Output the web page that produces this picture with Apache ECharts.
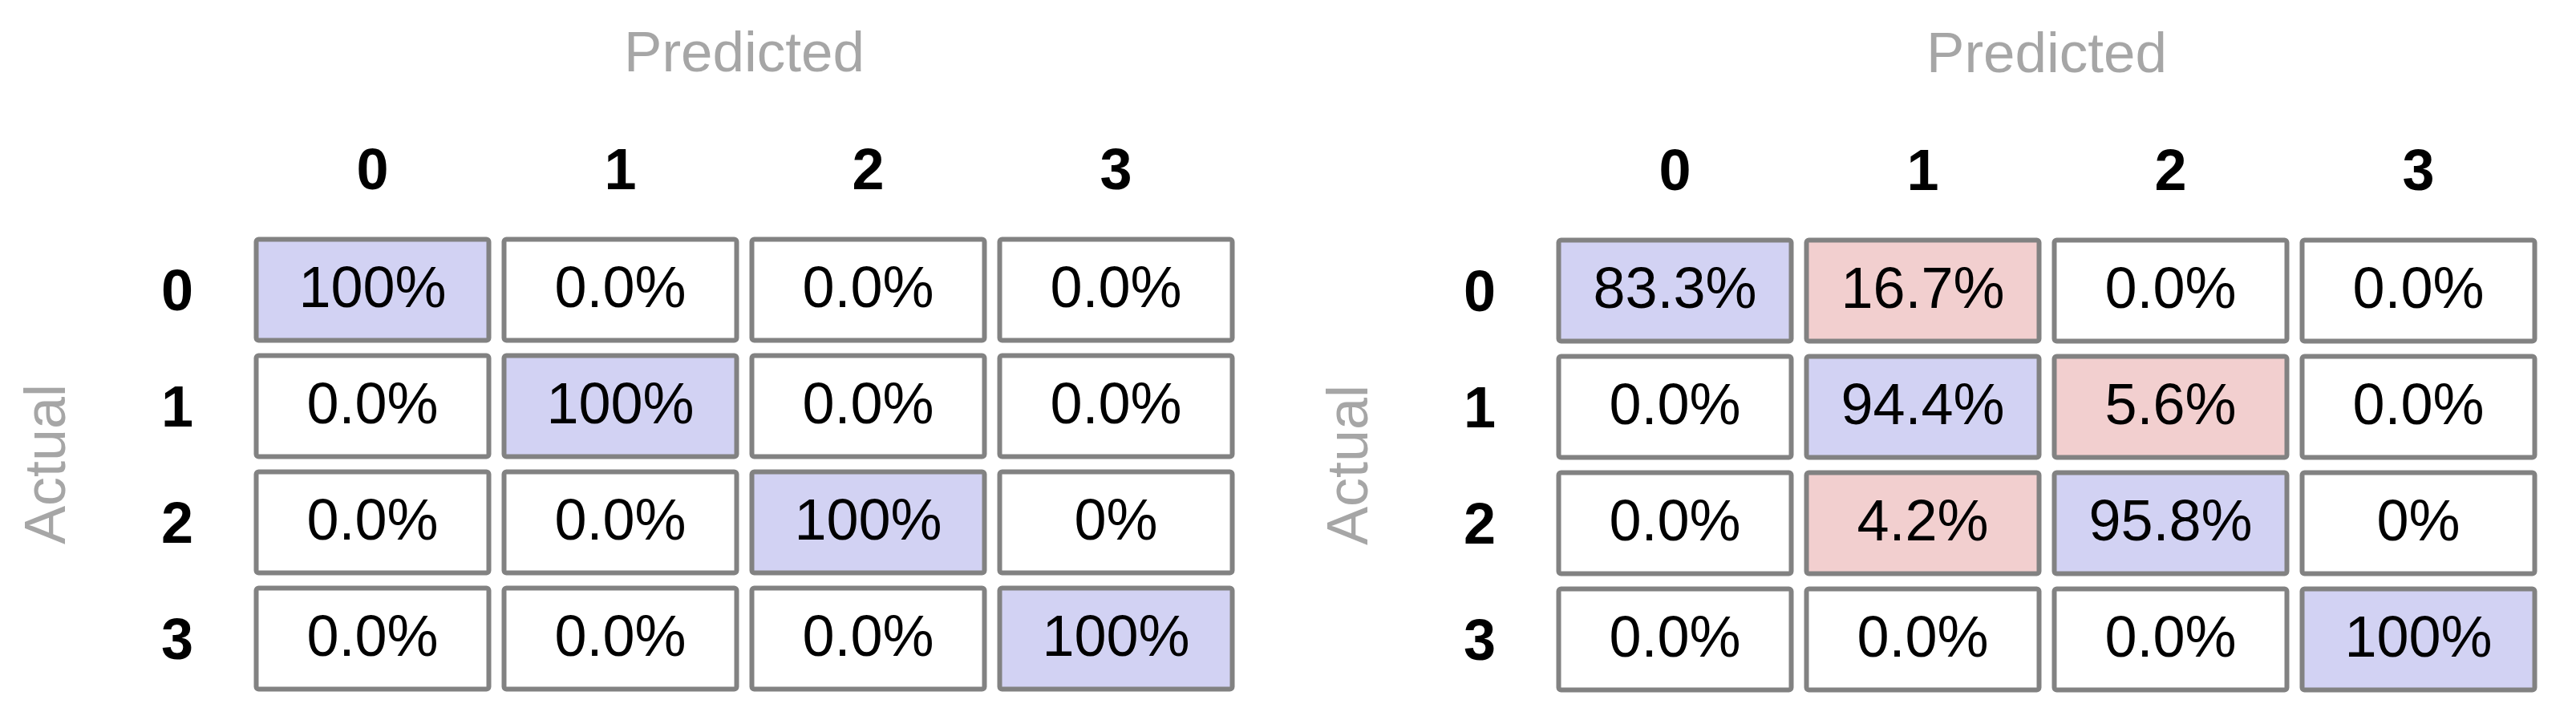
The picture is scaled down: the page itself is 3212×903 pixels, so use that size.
<!DOCTYPE html>
<html>
<head>
<meta charset="utf-8">
<script src="https://cdn.jsdelivr.net/npm/echarts@6/dist/echarts.min.js"></script>
<style>
  html, body { margin: 0; padding: 0; background: #fff; }
  #chart { width: 3212px; height: 903px; }
</style>
</head>
<body>
<div id="chart"></div>
<script>
// class labels for both axes
const classes = ['0', '1', '2', '3'];

// left matrix (rows = actual, cols = predicted)
const leftValues = [
  [100, 0, 0, 0],
  [0, 100, 0, 0],
  [0, 0, 100, 0],
  [0, 0, 0, 100]
];
const leftLabels = [
  ['100%', '0.0%', '0.0%', '0.0%'],
  ['0.0%', '100%', '0.0%', '0.0%'],
  ['0.0%', '0.0%', '100%', '0%'],
  ['0.0%', '0.0%', '0.0%', '100%']
];

// right matrix
const rightValues = [
  [83.3, 16.7, 0, 0],
  [0, 94.4, 5.6, 0],
  [0, 4.2, 95.8, 0],
  [0, 0, 0, 100]
];
const rightLabels = [
  ['83.3%', '16.7%', '0.0%', '0.0%'],
  ['0.0%', '94.4%', '5.6%', '0.0%'],
  ['0.0%', '4.2%', '95.8%', '0%'],
  ['0.0%', '0.0%', '0.0%', '100%']
];

const FONT = '"Liberation Sans", Arial, Helvetica, sans-serif';
const BLUE = '#d2d2f3';
const PINK = '#f2cfcf';
const BORDER = '#828282';

const toData = (values) => {
  const out = [];
  values.forEach((row, r) => {
    row.forEach((v, c) => out.push([c, r, v]));
  });
  return out;
};

// one bordered cell per value, with a small gap between neighbours
const makeRender = (labels) => (params, api) => {
  const col = api.value(0);
  const row = api.value(1);
  const v = api.value(2);
  const center = api.coord([col, row]);
  const size = api.size([1, 1]);
  const w = size[0] - 19;
  const h = size[1] - 19;
  let fill = '#fff';
  if (v > 0) fill = col === row ? BLUE : PINK;
  return {
    type: 'group',
    children: [
      {
        type: 'rect',
        shape: { x: center[0] - w / 2, y: center[1] - h / 2, width: w, height: h, r: 3 },
        style: { fill: fill, stroke: BORDER, lineWidth: 6 }
      },
      {
        type: 'text',
        x: center[0],
        y: center[1] + 2,
        style: {
          text: labels[row][col],
          fill: '#000',
          font: '72px ' + FONT,
          align: 'center',
          verticalAlign: 'middle'
        }
      }
    ]
  };
};

const xAxisFor = (gridIndex) => ({
  type: 'category',
  gridIndex: gridIndex,
  position: 'top',
  data: classes,
  name: 'Predicted',
  nameLocation: 'middle',
  nameGap: 184,
  nameTextStyle: { color: '#a6a6a6', fontSize: 71, fontFamily: FONT, lineHeight: 71 },
  axisLine: { show: false },
  axisTick: { show: false },
  splitLine: { show: false },
  axisLabel: {
    color: '#000', fontSize: 72, fontWeight: 'bold', fontFamily: FONT,
    lineHeight: 72, margin: 37
  }
});

const yAxisFor = (gridIndex) => ({
  type: 'category',
  gridIndex: gridIndex,
  inverse: true,
  data: classes,
  name: 'Actual',
  nameLocation: 'middle',
  nameRotate: 90,
  nameGap: 213,
  nameTextStyle: { color: '#a6a6a6', fontSize: 72, fontFamily: FONT, lineHeight: 72 },
  axisLine: { show: false },
  axisTick: { show: false },
  splitLine: { show: false },
  axisLabel: {
    margin: 69,
    formatter: (v) => '{n|' + v + '}',
    rich: {
      n: {
        color: '#000', fontSize: 72, fontWeight: 'bold', fontFamily: FONT,
        lineHeight: 72, padding: [12, 0, 0, 0]
      }
    }
  }
});

const chart = echarts.init(document.getElementById('chart'));
chart.setOption({
  animation: false,
  backgroundColor: '#fff',
  grid: [
    { left: 310, top: 289, width: 1236, height: 580 },
    { left: 1934, top: 290, width: 1236, height: 580 }
  ],
  xAxis: [xAxisFor(0), xAxisFor(1)],
  yAxis: [yAxisFor(0), yAxisFor(1)],
  series: [
    {
      type: 'custom',
      xAxisIndex: 0,
      yAxisIndex: 0,
      renderItem: makeRender(leftLabels),
      data: toData(leftValues)
    },
    {
      type: 'custom',
      xAxisIndex: 1,
      yAxisIndex: 1,
      renderItem: makeRender(rightLabels),
      data: toData(rightValues)
    }
  ]
});
</script>
</body>
</html>
